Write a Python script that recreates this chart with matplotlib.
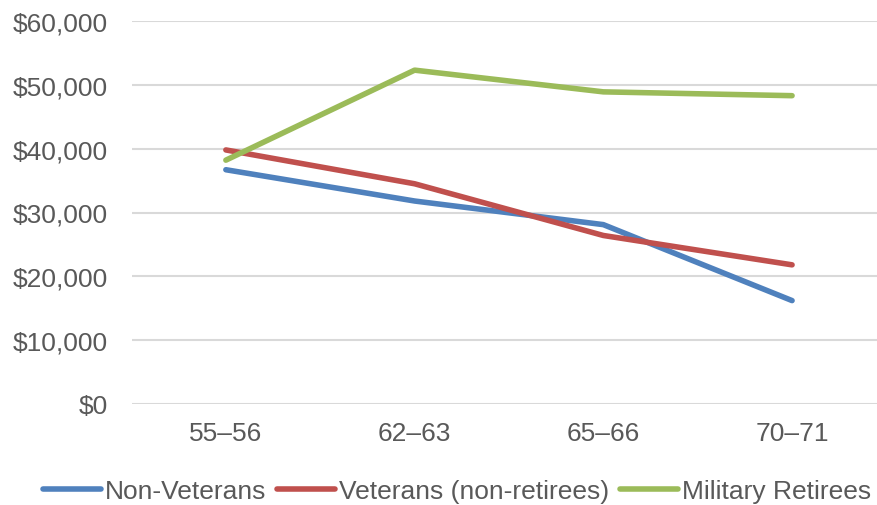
import matplotlib.pyplot as plt
from matplotlib.ticker import FuncFormatter

categories = ['55\u201356', '62\u201363', '65\u201366', '70\u201371']
non_veterans = [36700, 31800, 28100, 16200]
veterans = [39800, 34500, 26400, 21800]
retirees = [38200, 52300, 48900, 48300]

plt.rcParams['font.family'] = ['Liberation Sans', 'DejaVu Sans']
txt = '#595959'

fig = plt.figure(figsize=(8.77, 5.06), dpi=100)
ax = fig.add_axes([131.5 / 877, 1 - 405 / 506, 745.5 / 877, 383 / 506])

x = range(len(categories))
ax.plot(x, non_veterans, color='#4F81BD', lw=4, solid_capstyle='round', label='Non-Veterans')
ax.plot(x, veterans, color='#C0504D', lw=4, solid_capstyle='round', label='Veterans (non-retirees)')
ax.plot(x, retirees, color='#9BBB59', lw=4, solid_capstyle='round', label='Military Retirees')

ax.set_xlim(-0.5, 3.45)
ax.set_ylim(0, 60000)
ax.set_yticks(range(0, 60001, 10000))
ax.yaxis.set_major_formatter(FuncFormatter(lambda v, p: '${:,.0f}'.format(v)))
ax.set_xticks(list(x))
ax.set_xticklabels(categories)
ax.grid(axis='y', color='#D9D9D9', lw=1.5)
ax.set_axisbelow(True)
for s in ax.spines.values():
    s.set_visible(False)
ax.tick_params(axis='y', length=0, pad=17, labelsize=19, labelcolor=txt)
ax.tick_params(axis='x', length=0, pad=12, labelsize=19, labelcolor=txt)

leg = fig.legend(loc='center', bbox_to_anchor=(0.521, 1 - 492 / 506), ncol=3, frameon=False,
                 fontsize=19, handlelength=2.2, handletextpad=0.16, columnspacing=0.4,
                 borderpad=0, borderaxespad=0)
for t in leg.get_texts():
    t.set_color(txt)

fig.savefig('out.png', dpi=100)
